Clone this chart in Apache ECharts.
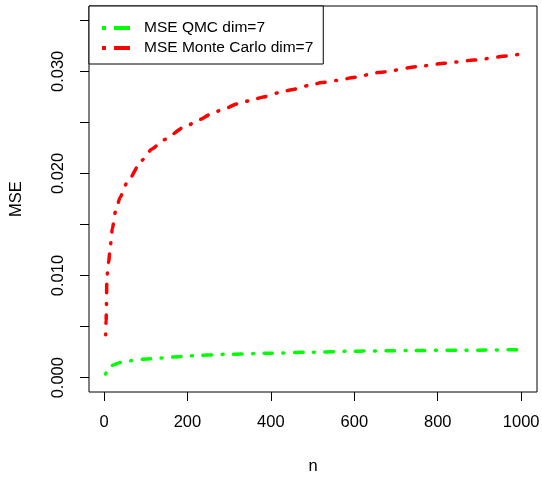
<!DOCTYPE html>
<html>
<head>
<meta charset="utf-8">
<script src="https://cdn.jsdelivr.net/npm/echarts@6/dist/echarts.min.js"></script>
<style>
  html, body { margin: 0; padding: 0; background: #fff; }
  #chart { width: 542px; height: 477px; }
</style>
</head>
<body>
<div id="chart"></div>
<script>
    'use strict'

    /* Chart data */
    var mcN = [4, 5, 7, 11, 15, 20, 27, 39, 55, 91, 115, 143, 195, 231, 255, 286, 319, 355, 382, 418, 450, 490, 522,
        558, 598, 660, 759, 815, 887, 966, 1000];
    var mcMse = [0.0042, 0.0056, 0.0099, 0.0113, 0.0128, 0.0146, 0.0162, 0.0177, 0.0191, 0.0213, 0.0224, 0.0233,
        0.0246, 0.0253, 0.0258, 0.0263, 0.0268, 0.0272, 0.0275, 0.0279, 0.0282, 0.0286, 0.0289, 0.0291, 0.0294,
        0.0299, 0.0305, 0.0308, 0.0311, 0.0315, 0.0317];
    var qmcN = [4, 10, 19, 39, 63, 103, 182, 200, 300, 400, 500, 600, 746, 900, 1000];
    var qmcMse = [0.00036, 0.0009, 0.0012, 0.0015, 0.00167, 0.00184, 0.00206, 0.00213, 0.0023, 0.0024, 0.0025,
        0.0026, 0.00267, 0.0027, 0.00275];
    var xTicks = [0, 200, 400, 600, 800, 1000];
    var yTicks = [0, 0.005, 0.01, 0.015, 0.02, 0.025, 0.03, 0.035];
    var yLabels = [0, 0.01, 0.02, 0.03];

    function pairs(xs, ys) {
        return xs.map(function (x, i) { return [x, ys[i]]; });
    }

    var font = 'Liberation Sans, Arial, sans-serif';
    var dotdash = [1, 10.5, 8.5, 10.5];
    // dot + dash legend key, like R's lty=4
    var keyIcon = 'path://M0,0 L4,0 L4,4 L0,4 Z M12,0 L28,0 L28,4 L12,4 Z';

    var chart = echarts.init(document.getElementById('chart'));

    chart.setOption({
        animation: false,
        grid: {
            left: 89,
            top: 6,
            right: 5,
            bottom: 85,
            show: true,
            borderColor: '#000',
            borderWidth: 1,
            outerBoundsMode: 'none'
        },
        legend: {
            orient: 'vertical',
            left: 89,
            top: 6,
            padding: [14, 10, 8, 13],
            itemGap: 4,
            itemWidth: 28,
            itemHeight: 4,
            icon: keyIcon,
            backgroundColor: '#fff',
            borderColor: '#000',
            borderWidth: 1,
            textStyle: {
                fontFamily: font,
                fontSize: 15.5,
                color: '#000',
                padding: [0, 0, 0, 9]
            },
            data: ['MSE QMC dim=7', 'MSE Monte Carlo dim=7']
        },
        xAxis: {
            type: 'value',
            min: -36,
            max: 1038,
            name: 'n',
            nameLocation: 'middle',
            nameGap: 66,
            nameTextStyle: { fontFamily: font, fontSize: 16.5, color: '#000' },
            axisLine: { show: false, onZero: false },
            splitLine: { show: false },
            axisTick: {
                show: true,
                inside: false,
                length: 9,
                customValues: xTicks,
                lineStyle: { color: '#000' }
            },
            axisLabel: {
                customValues: xTicks,
                margin: 22,
                fontFamily: font,
                fontSize: 16.5,
                color: '#000',
                formatter: function (v) { return String(v); }
            }
        },
        yAxis: {
            type: 'value',
            min: -0.0014,
            max: 0.0364,
            name: 'MSE',
            nameLocation: 'middle',
            nameGap: 64,
            nameRotate: 90,
            nameTextStyle: { fontFamily: font, fontSize: 16.5, color: '#000' },
            axisLine: { show: false, onZero: false },
            splitLine: { show: false },
            axisTick: {
                show: true,
                inside: false,
                length: 9,
                customValues: yTicks,
                lineStyle: { color: '#000' }
            },
            axisLabel: {
                customValues: yLabels,
                rotate: 90,
                margin: 22,
                fontFamily: font,
                fontSize: 16.5,
                color: '#000',
                formatter: function (v) { return v.toFixed(3); }
            }
        },
        series: [
            {
                name: 'MSE QMC dim=7',
                type: 'line',
                showSymbol: false,
                symbol: 'none',
                smooth: 0.2,
                smoothMonotone: 'x',
                lineStyle: { color: '#00ff00', width: 3.5, type: dotdash, cap: 'round' },
                itemStyle: { color: '#00ff00' },
                data: pairs(qmcN, qmcMse)
            },
            {
                name: 'MSE Monte Carlo dim=7',
                type: 'line',
                showSymbol: false,
                symbol: 'none',
                smooth: 0.2,
                smoothMonotone: 'x',
                lineStyle: { color: '#ff0000', width: 3.5, type: dotdash, cap: 'round' },
                itemStyle: { color: '#ff0000' },
                data: pairs(mcN, mcMse)
            }
        ]
    });
</script>
</body>
</html>
